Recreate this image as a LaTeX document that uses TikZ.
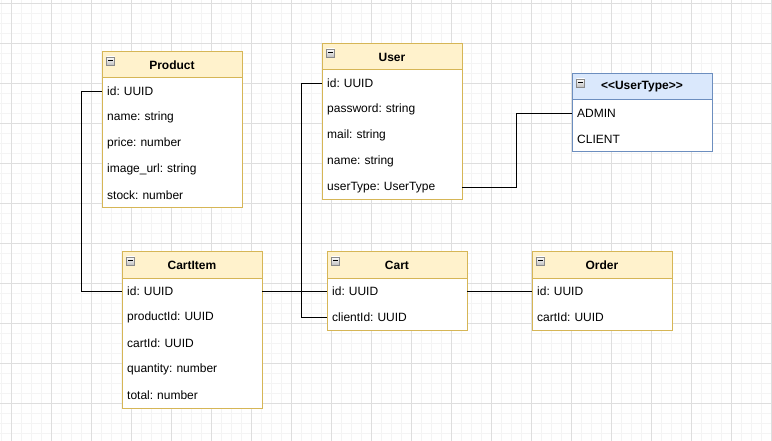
\documentclass[tikz,border=0pt]{standalone}
\usepackage{fontspec}
\setmainfont{Liberation Sans}
\usetikzlibrary{calc}
\frenchspacing
\definecolor{ylwfill}{HTML}{FFF2CC}
\definecolor{ylwline}{HTML}{D6B656}
\definecolor{bluefill}{HTML}{DAE8FC}
\definecolor{blueline}{HTML}{6C8EBF}
\definecolor{gridminor}{HTML}{F4F4F4}
\definecolor{gridmajor}{HTML}{DEDEDE}
\definecolor{icongray}{HTML}{C0C0C0}
\definecolor{iconline}{HTML}{8A8A8A}
\tikzset{
  yellowtab/.style={draw=ylwline},
  bluetab/.style={draw=blueline},
  yellowhdr/.style={fill=ylwfill},
  bluehdr/.style={fill=bluefill},
  hdr/.style={rectangle, line width=0.9pt, minimum width=140pt, minimum height=26pt, inner sep=0pt, font=\fontsize{12}{14}\selectfont\bfseries},
  bodybox/.style={rectangle, line width=0.9pt, fill=white, minimum width=140pt, inner sep=0pt},
  rowtxt/.style={rectangle, minimum width=140pt, minimum height=26pt, text width=129pt, inner xsep=5.5pt, inner ysep=0pt, align=left, font=\fontsize{12}{14}\selectfont},
  collapseicon/.style={rectangle, draw=iconline, top color=white, bottom color=icongray, minimum size=8pt, inner sep=0pt, line width=0.6pt,
     path picture={\draw[line width=1pt, black] ([xshift=1.8pt]path picture bounding box.west) -- ([xshift=-1.8pt]path picture bounding box.east);}},
  link/.style={draw=black, line width=0.9pt},
}
\newcommand\erbox[7]{%
  % #1 name, #2 x, #3 y, #4 title, #5 colour prefix, #6 number of rows, #7 rows
  \node[bodybox, #5tab, minimum height={26pt*#6}, anchor=north west] (#1-body) at (#2,#3+26) {};
  \node[hdr, #5tab, #5hdr, anchor=north west] (#1) at (#2,#3) {#4};
  \node[collapseicon] (#1-icon) at (#2+9,#3+9.5) {};
  \foreach \r [count=\i] in {#7} {
    \node[rowtxt, anchor=north west] (#1-\i) at (#2,{#3+26*\i+0.6}) {\r};
  }%
}
\begin{document}
\begin{tikzpicture}[x=1pt,y=-1pt]
\useasboundingbox (0,0) rectangle (772,441);
\fill[white] (0,0) rectangle (772,441);
% grid
\foreach \gx in {1.5,11.5,...,771.5} {\draw[gridminor, line width=0.8pt] (\gx,0) -- (\gx,441);}
\foreach \gy in {3.5,13.5,...,441} {\draw[gridminor, line width=0.8pt] (0,\gy) -- (772,\gy);}
\foreach \gx in {11.5,51.5,...,771.5} {\draw[gridmajor, line width=0.8pt] (\gx,0) -- (\gx,441);}
\foreach \gy in {3.5,43.5,...,441} {\draw[gridmajor, line width=0.8pt] (0,\gy) -- (772,\gy);}

% tables
\erbox{prod}{101.5}{51.5}{Product}{yellow}{5}{id: UUID, name: string, price: number, image\_url: string, stock: number}
\erbox{user}{321.5}{43.5}{User}{yellow}{5}{id: UUID, password: string, mail: string, name: string, userType: UserType}
\erbox{utype}{571.5}{73.5}{<{}<UserType>{}>}{blue}{2}{ADMIN, CLIENT}
\erbox{citem}{121.5}{251.5}{CartItem}{yellow}{5}{id: UUID, productId: UUID, cartId: UUID, quantity: number, total: number}
\erbox{cart}{326.5}{251.5}{Cart}{yellow}{2}{id: UUID, clientId: UUID}
\erbox{order}{531.5}{251.5}{Order}{yellow}{2}{id: UUID, cartId: UUID}

% connectors
\draw[link] (prod-1.west) -- ++(-20,0) |- (citem-1.west);
\draw[link] (user-1.west) -- ++(-20,0) |- (cart-2.west);
\draw[link] (user-5.east) -- ++(55,0) |- (utype-1.west);
\draw[link] (citem-1.east) -- (cart-1.west);
\draw[link] (cart-1.east) -- (order-1.west);
\end{tikzpicture}
\end{document}
